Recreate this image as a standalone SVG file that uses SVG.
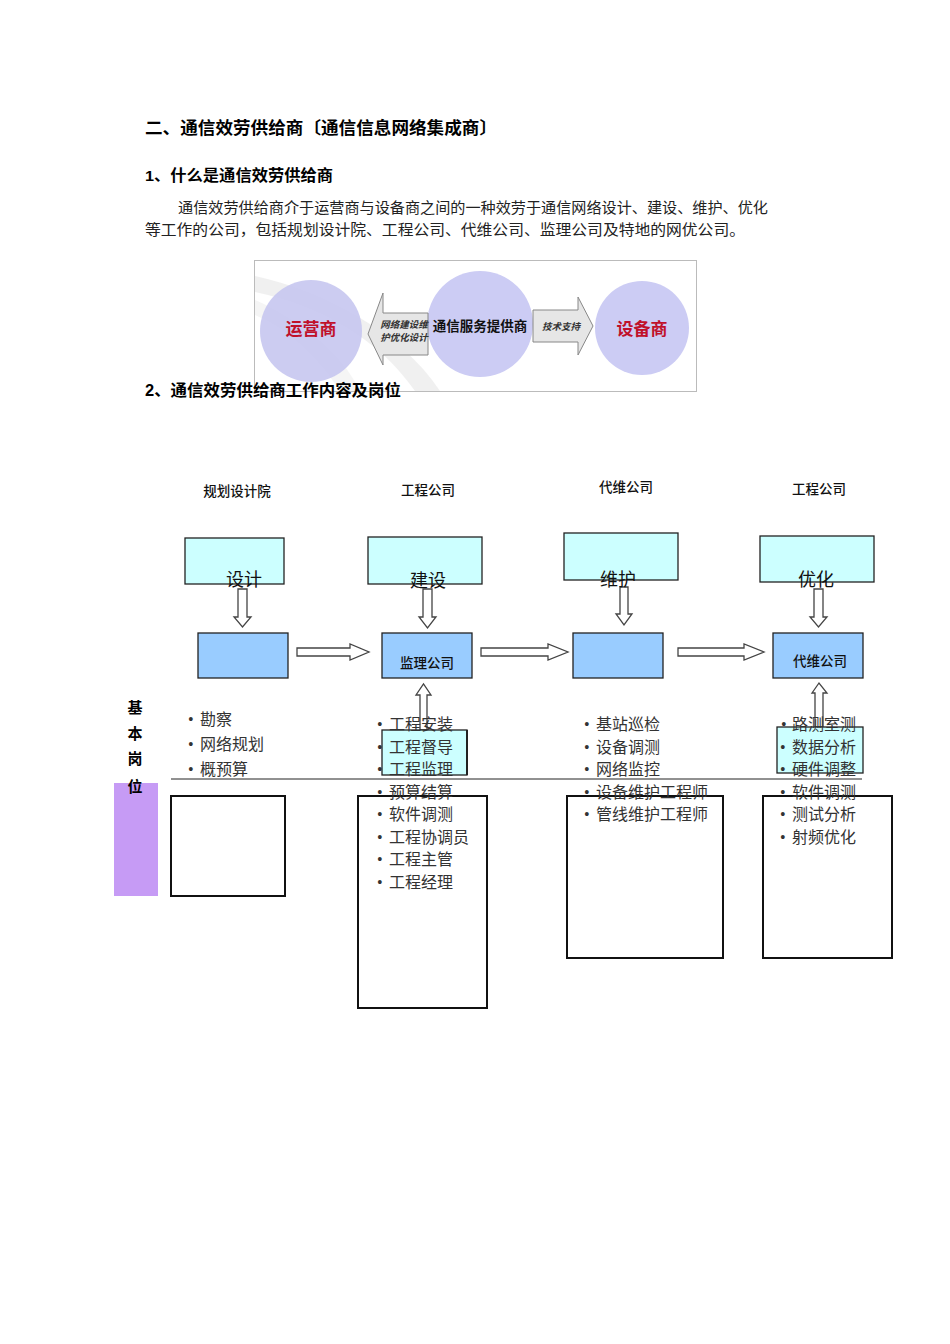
<svg xmlns="http://www.w3.org/2000/svg" width="950" height="1344" viewBox="0 0 950 1344">
<style>
.h{font-family:"Liberation Sans","Noto Sans CJK SC",sans-serif;font-weight:bold;fill:#000}
.p{font-family:"Liberation Serif","Noto Sans CJK SC",serif;font-size:15px;fill:#222}
.col{font-family:"Liberation Sans","Noto Sans CJK SC",sans-serif;font-size:13.5px;font-weight:500;fill:#111;text-anchor:middle}
.big{font-family:"Liberation Sans","Noto Sans CJK SC",sans-serif;font-size:18px;fill:#111;text-anchor:middle}
.bl{font-family:"Liberation Serif","Noto Sans CJK SC",serif;font-size:16px;fill:#333}
.cy{fill:#ccffff;stroke:#222;stroke-width:1.3}
.bu{fill:#99ccff;stroke:#222;stroke-width:1.3}
.wb{fill:none;stroke:#111;stroke-width:2}
.ar{fill:#fff;stroke:#444;stroke-width:1.3}
</style>
<rect width="950" height="1344" fill="#fff"/>

<g id="title">
<text class="h" x="145" y="134" font-size="17" textLength="352" lengthAdjust="spacingAndGlyphs">二、通信效劳供给商〔通信信息网络集成商〕</text>
<text class="h" x="145" y="181" font-size="15.5" textLength="188" lengthAdjust="spacingAndGlyphs">1、什么是通信效劳供给商</text>
<text class="p" x="178" y="213" textLength="590" lengthAdjust="spacingAndGlyphs">通信效劳供给商介于运营商与设备商之间的一种效劳于通信网络设计、建设、维护、优化</text>
<text class="p" x="145" y="235" textLength="600" lengthAdjust="spacingAndGlyphs">等工作的公司，包括规划设计院、工程公司、代维公司、监理公司及特地的网优公司。</text>
</g>

<g id="picture">
<rect x="254.5" y="260.5" width="442" height="131" fill="#fff" stroke="#bbb" stroke-width="1"/>
<path d="M255,276 C320,290 400,330 440,391 L415,391 C380,340 320,305 255,292 Z" fill="#e2e2e2" opacity="0.5"/>
<path d="M255,300 C300,320 340,350 360,391 L340,391 C320,360 290,330 255,315 Z" fill="#ececec" opacity="0.5"/>
<circle cx="311" cy="331" r="51" fill="#c6c6f0" opacity="0.9"/>
<circle cx="480" cy="324" r="53" fill="#ccccf4"/>
<circle cx="642" cy="328" r="47" fill="#ccccf4"/>
<polygon points="428,313 383,313 383,293 368,334 383,365 383,355 428,355" fill="#e6e6e6" stroke="#888" stroke-width="1"/>
<polygon points="533,310 578,310 578,297 593,326 578,355 578,342 533,342" fill="#e6e6e6" stroke="#888" stroke-width="1"/>
<text x="311" y="335" font-family="Liberation Sans,Noto Sans CJK SC,sans-serif" font-size="17" font-weight="bold" fill="#c0102a" text-anchor="middle">运营商</text>
<text x="480" y="331" font-family="Liberation Sans,Noto Sans CJK SC,sans-serif" font-size="13.5" font-weight="bold" fill="#111" text-anchor="middle">通信服务提供商</text>
<text x="642" y="335" font-family="Liberation Sans,Noto Sans CJK SC,sans-serif" font-size="17" font-weight="bold" fill="#c0102a" text-anchor="middle">设备商</text>
<text x="404" y="328" font-family="Liberation Serif,Noto Sans CJK SC,serif" font-size="9.5" font-style="italic" font-weight="bold" fill="#333" text-anchor="middle">网络建设维</text>
<text x="404" y="341" font-family="Liberation Serif,Noto Sans CJK SC,serif" font-size="9.5" font-style="italic" font-weight="bold" fill="#333" text-anchor="middle">护优化设计</text>
<text x="561" y="330" font-family="Liberation Serif,Noto Sans CJK SC,serif" font-size="9.5" font-style="italic" font-weight="bold" fill="#333" text-anchor="middle">技术支持</text>
</g>

<g id="heading2">
<text class="h" x="145" y="396" font-size="16" textLength="256" lengthAdjust="spacingAndGlyphs">2、通信效劳供给商工作内容及岗位</text>
</g>

<g id="col-headers">
<text class="col" x="237" y="496">规划设计院</text>
<text class="col" x="428" y="495">工程公司</text>
<text class="col" x="626" y="492">代维公司</text>
<text class="col" x="819" y="494">工程公司</text>
</g>

<g id="lines">
<line x1="171" y1="779" x2="862" y2="779" stroke="#222" stroke-width="1"/>
</g>

<g id="side-label">
<rect x="114" y="783" width="44" height="113" fill="#c69bf5"/>
<g class="h" font-size="15" text-anchor="middle">
<text x="135" y="713">基</text>
<text x="135" y="739">本</text>
<text x="135" y="764">岗</text>
<text x="135" y="792">位</text>
</g>
</g>

<g id="node-design"><rect class="cy" x="185" y="538" width="99" height="46"/></g>
<g id="node-build"><rect class="cy" x="368" y="537" width="114" height="47"/></g>
<g id="node-maint"><rect class="cy" x="564" y="533" width="114" height="47"/></g>
<g id="node-opt"><rect class="cy" x="760" y="536" width="114" height="46"/></g>

<g id="node-blue1"><rect class="bu" x="198" y="633" width="90" height="45"/></g>
<g id="node-blue2"><rect class="bu" x="382" y="633" width="90" height="45"/><text x="427" y="668" font-family="Liberation Sans,Noto Sans CJK SC,sans-serif" font-size="13.5" font-weight="500" text-anchor="middle" fill="#111">监理公司</text></g>
<g id="node-blue3"><rect class="bu" x="573" y="633" width="90" height="45"/></g>
<g id="node-blue4"><rect class="bu" x="773" y="633" width="90" height="45"/><text x="820" y="666" font-family="Liberation Sans,Noto Sans CJK SC,sans-serif" font-size="13.5" font-weight="500" text-anchor="middle" fill="#111">代维公司</text></g>

<g id="box1"><rect class="wb" x="171" y="796" width="114" height="100"/></g>
<g id="box2"><rect class="wb" x="358" y="796" width="129" height="212"/></g>
<g id="box3"><rect class="wb" x="567" y="796" width="156" height="162"/></g>
<g id="box4"><rect class="wb" x="763" y="796" width="129" height="162"/></g>

<g id="connectors">
<polygon class="ar" points="238,589 247,589 247,617 251,617 242.5,627 234,617 238,617"/>
<polygon class="ar" points="423,589 432,589 432,617 436,617 427.5,628 419,617 423,617"/>
<polygon class="ar" points="620,587 628,587 628,614 632,614 624,625 616,614 620,614"/>
<polygon class="ar" points="814,589 823,589 823,617 827,617 818.5,627 810,617 814,617"/>
<polygon class="ar" points="297,648 350,648 350,644 369,652 350,660 350,656 297,656"/>
<polygon class="ar" points="481,648 548,648 548,644 568,652 548,660 548,656 481,656"/>
<polygon class="ar" points="678,648 744,648 744,644 764,652 744,660 744,656 678,656"/>
<polygon class="ar" points="420,730 427,730 427,695 431,695 423.5,684 416,695 420,695"/>
<polygon class="ar" points="815,727 823,727 823,693 827,693 819,683 812,693 815,693"/>
</g>

<g id="node-sup1"><rect class="cy" x="382" y="730" width="85" height="45"/><line x1="467" y1="730" x2="467" y2="775" stroke="#222" stroke-width="2"/></g>
<g id="node-sup2"><rect class="cy" x="777" y="727" width="86" height="46"/></g>

<g id="labels-main">
<text class="big" x="244" y="586" font-size="19">设计</text>
<text class="big" x="428" y="587" font-size="16">建设</text>
<text class="big" x="618" y="586">维护</text>
<text class="big" x="816" y="586">优化</text>
</g>

<g id="list1" class="bl">
<text x="188" y="725">•</text><text x="200" y="725">勘察</text>
<text x="188" y="750">•</text><text x="200" y="750">网络规划</text>
<text x="188" y="775">•</text><text x="200" y="775">概预算</text>
</g>
<g id="list2" class="bl">
<text x="377" y="730">•</text><text x="389" y="730">工程安装</text>
<text x="377" y="752.5">•</text><text x="389" y="752.5">工程督导</text>
<text x="377" y="775">•</text><text x="389" y="775">工程监理</text>
<text x="377" y="797.5">•</text><text x="389" y="797.5">预算结算</text>
<text x="377" y="820">•</text><text x="389" y="820">软件调测</text>
<text x="377" y="842.5">•</text><text x="389" y="842.5">工程协调员</text>
<text x="377" y="865">•</text><text x="389" y="865">工程主管</text>
<text x="377" y="887.5">•</text><text x="389" y="887.5">工程经理</text>
</g>
<g id="list3" class="bl">
<text x="584" y="730">•</text><text x="596" y="730">基站巡检</text>
<text x="584" y="752.5">•</text><text x="596" y="752.5">设备调测</text>
<text x="584" y="775">•</text><text x="596" y="775">网络监控</text>
<text x="584" y="797.5">•</text><text x="596" y="797.5">设备维护工程师</text>
<text x="584" y="820">•</text><text x="596" y="820">管线维护工程师</text>
</g>
<g id="list4" class="bl">
<text x="781" y="730">•</text><text x="792" y="730">路测室测</text>
<text x="780" y="752.5">•</text><text x="792" y="752.5">数据分析</text>
<text x="780" y="775">•</text><text x="792" y="775">硬件调整</text>
<text x="780" y="797.5">•</text><text x="792" y="797.5">软件调测</text>
<text x="780" y="820">•</text><text x="792" y="820">测试分析</text>
<text x="780" y="842.5">•</text><text x="792" y="842.5">射频优化</text>
</g>
</svg>
